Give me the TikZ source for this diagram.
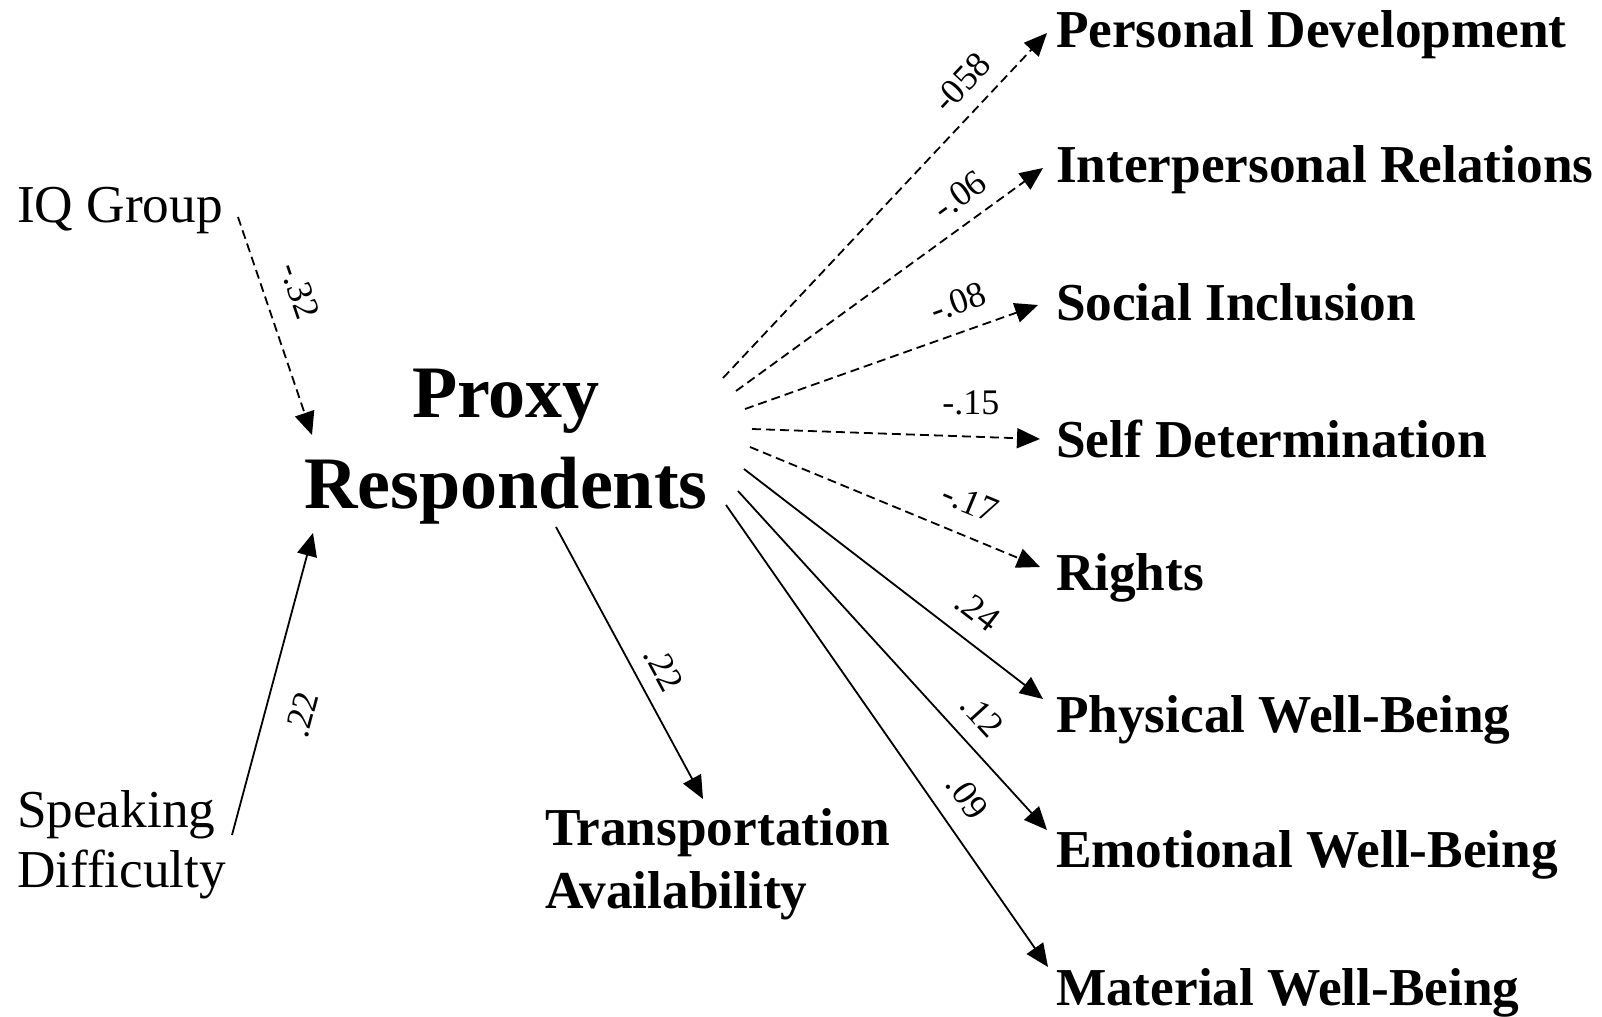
\documentclass[tikz,border=0pt]{standalone}
\usepackage{fontspec}
\setmainfont{Liberation Serif}
\usetikzlibrary{arrows.meta}
\begin{document}
\begin{tikzpicture}[x=1bp,y=-1bp,
  every node/.style={inner sep=0pt, outer sep=0pt},
  lbl/.style={font=\fontsize{53.5}{60.2}\selectfont, anchor=base west},
  tgt/.style={font=\fontsize{53.5}{63.2}\selectfont\bfseries, anchor=base west},
  hub/.style={font=\fontsize{74.3}{91.3}\selectfont\bfseries, align=center, anchor=base},
  coef/.style={font=\fontsize{36.1}{40}\selectfont},
  arr/.style={line width=1.8bp, -{Triangle[length=23bp,width=20bp]}},
  dsh/.style={arr, dash pattern=on 9bp off 5bp},
]
\fill[white] (0,0) rectangle (1602,1016);
\useasboundingbox (0,0) rectangle (1602,1016);

% target variables
\node[tgt] (pd) at (1056,47) {Personal Development};
\node[tgt] (ir) at (1056,182) {Interpersonal Relations};
\node[tgt] (si) at (1056,320) {Social Inclusion};
\node[tgt] (sd) at (1056,457) {Self Determination};
\node[tgt] (ri) at (1056,590) {Rights};
\node[tgt] (pw) at (1056,732) {Physical Well-Being};
\node[tgt] (ew) at (1056,867) {Emotional Well-Being};
\node[tgt] (mw) at (1056,1005) {Material Well-Being};

% other variables (base anchor = baseline of the last line)
\node[hub] (pr) at (506,508) {Proxy\\Respondents};
\node[tgt, align=left] (ta) at (545,908) {Transportation\\Availability};
\node[lbl] (iq) at (17,222) {IQ Group};
\node[lbl, align=left] (sp) at (17,887) {Speaking\\Difficulty};

% connector ends
\coordinate (o1) at (723,378);
\coordinate (o2) at (736,391);
\coordinate (o3) at (745,409);
\coordinate (o4) at (752,429);
\coordinate (o5) at (750,447);
\coordinate (o6) at (744,469);
\coordinate (o7) at (738,491);
\coordinate (o8) at (726,505);
\coordinate (o9) at (556,527);
\coordinate (iq-out) at (238,217);
\coordinate (sp-out) at (232,835);
\coordinate (pr-in1) at (312,435);
\coordinate (pr-in2) at (313,533);
\coordinate (pd-in) at ([shift={(-9,-14)}]pd.base west);
\coordinate (ir-in) at ([shift={(-13,-14)}]ir.base west);
\coordinate (si-in) at ([shift={(-18,-15)}]si.base west);
\coordinate (sd-in) at ([shift={(-16,-18)}]sd.base west);
\coordinate (ri-in) at ([shift={(-16,-23)}]ri.base west);
\coordinate (pw-in) at ([shift={(-13,-33)}]pw.base west);
\coordinate (ew-in) at ([shift={(-9,-37)}]ew.base west);
\coordinate (mw-in) at ([shift={(-8,-38)}]mw.base west);
\coordinate (ta-in) at (703,799);

% connectors
\draw[dsh] (iq-out) -- node[coef, pos=0.39, sloped, above=23bp] (c10) {-.32} (pr-in1);
\draw[arr] (sp-out) -- node[coef, pos=0.43, sloped, below=24bp] (c11) {.22} (pr-in2);
\draw[arr] (o9) -- node[coef, pos=0.57, sloped, above=15bp] (c9) {.22} (ta-in);

\draw[dsh] (o1) -- node[coef, pos=0.80, sloped, above=16bp] (c1) {-058} (pd-in);
\draw[dsh] (o2) -- node[coef, pos=0.78, sloped, above=15bp] (c2) {-.06} (ir-in);
\draw[dsh] (o3) -- node[coef, pos=0.76, sloped, above=17bp] (c3) {-.08} (si-in);
\draw[dsh] (o4) -- node[coef, pos=0.76, above=22bp] (c4) {-.15} (sd-in);
\draw[dsh] (o5) -- node[coef, pos=0.715, sloped, above=21bp] (c5) {-.17} (ri-in);
\draw[arr] (o6) -- node[coef, pos=0.72, sloped, above=18bp] (c6) {.24} (pw-in);
\draw[arr] (o7) -- node[coef, pos=0.72, sloped, above=17bp] (c7) {.12} (ew-in);
\draw[arr] (o8) -- node[coef, pos=0.67, sloped, above=19bp] (c8) {.09} (mw-in);
\end{tikzpicture}
\end{document}
